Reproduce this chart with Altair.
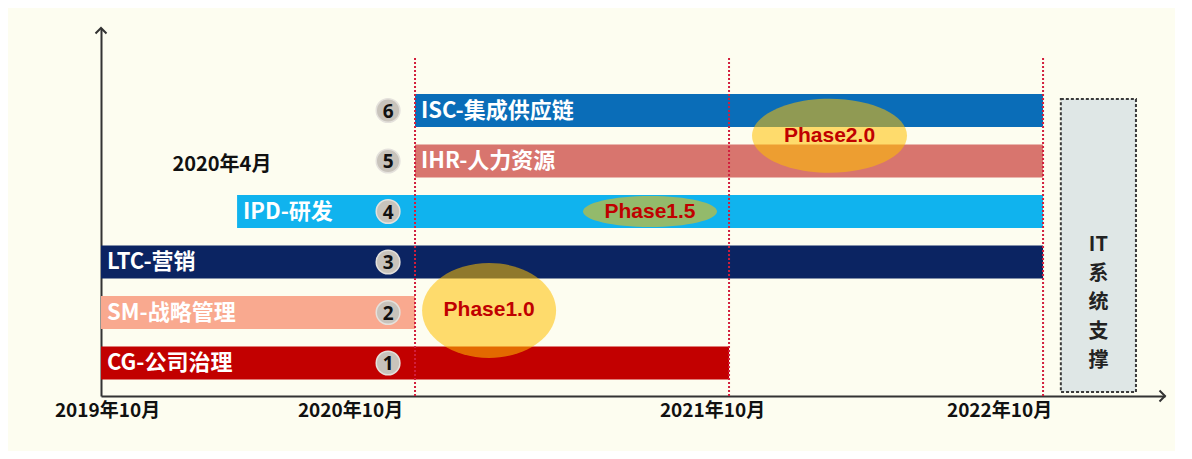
import altair as alt
import pandas as pd

# ---------------- data ----------------
tasks = ["CG-公司治理", "SM-战略管理", "LTC-营销", "IPD-研发", "IHR-人力资源", "ISC-集成供应链"]
task_rows = [1, 2, 3, 4, 5, 6]
task_start = [0, 0, 0, 5.2, 12, 12]      # months since 2019-10
task_end = [24, 12, 36, 36, 36, 36]
task_colors = ["#c20000", "#f9a98f", "#0b2462", "#10b3ee", "#d8756e", "#0a6db8"]

tick_months = [0, 12, 24, 36]
tick_labels = ["2019年10月", "2020年10月", "2021年10月", "2022年10月"]
milestone_months = [12, 24, 36]

phase_names = ["Phase1.0", "Phase1.5", "Phase2.0"]
phase_month = [14.83, 20.98, 27.84]
phase_row = [2.04, 4.0, 5.5]

badge_month = 10.97
annot_text = "2020年4月"
annot_month = 4.62
annot_row = 4.93

it_lines = ["IT", "系", "统", "支", "撑"]
it_start, it_end = 36.68, 39.55
it_bottom, it_top = 0.426, 6.228

X_MAX = 40.66
Y_MIN, Y_MAX = 0.3465, 7.634
GUIDE_TOP = 7.04

# ---------------- styles ----------------
BAR_HALF = 0.327
ELLIPSE_W = [134, 134, 155]
ELLIPSE_H = [95, 31, 74]
CJK = "Noto Sans CJK SC"

XS = alt.Scale(domain=[0, X_MAX], nice=False, zero=False)
YS = alt.Scale(domain=[Y_MIN, Y_MAX], nice=False, zero=False)

label_expr = "[" + ",".join("'%s'" % t for t in tick_labels) + "][indexof([" + \
    ",".join(str(m) for m in tick_months) + "], datum.value)]"
offsets = [6, -65, -17, -44]
XAXIS = alt.Axis(
    values=tick_months, labelExpr=label_expr, ticks=False, grid=False, title=None,
    domainColor="#333333", domainWidth=2, labelFont=CJK, labelFontSize=19,
    labelFontWeight="bold", labelColor="#111111", labelPadding=5,
    labelFlush=False, labelOverlap=False,
    labelOffset={"condition": [{"test": "datum.value == %s" % m, "value": o}
                               for m, o in zip(tick_months, offsets)], "value": 0},
)
YAXIS = alt.Axis(labels=False, ticks=False, grid=False, title=None,
                 domainColor="#333333", domainWidth=2)


def X(f):
    return alt.X(f, type="quantitative", scale=XS, axis=XAXIS)


def Y(f):
    return alt.Y(f, type="quantitative", scale=YS, axis=YAXIS)


tasks_df = pd.DataFrame({"task": tasks, "row": task_rows, "start": task_start,
                         "end": task_end, "color": task_colors})
tasks_df["lo"] = tasks_df["row"] - BAR_HALF
tasks_df["hi"] = tasks_df["row"] + BAR_HALF
tasks_df["badge"] = badge_month

bars = alt.Chart(tasks_df).mark_bar(cornerRadius=0).encode(
    x=X("start"), x2="end", y=Y("lo"), y2="hi",
    color=alt.Color("color:N", scale=None))

bar_labels = alt.Chart(tasks_df).mark_text(
    align="left", baseline="middle", dx=6, font=CJK, fontWeight="bold",
    fontSize=22, color="white").encode(x=X("start"), y=Y("row"), text="task:N")

badges = alt.Chart(tasks_df).mark_circle(
    size=560, color="#c8c3bb", opacity=1, stroke="#e4e1dc", strokeWidth=1.5).encode(
    x=X("badge"), y=Y("row"))
badge_nums = alt.Chart(tasks_df).mark_text(
    font="Noto Sans", fontWeight="bold", fontSize=19, color="#111111",
    baseline="middle", dy=1).encode(x=X("badge"), y=Y("row"), text="row:N")

guide_df = pd.DataFrame({"m": milestone_months, "y0": Y_MIN, "y1": GUIDE_TOP})
guides = alt.Chart(guide_df).mark_rule(
    color="#d21f3c", strokeDash=[2, 2], strokeWidth=2).encode(
    x=X("m"), y=Y("y0"), y2="y1")


def ellipse_path(w, h):
    r = h / w
    return "M -1 0 A 1 %.4f 0 1 1 1 0 A 1 %.4f 0 1 1 -1 0 Z" % (r, r)


phase_df = pd.DataFrame({"phase": phase_names, "m": phase_month, "row": phase_row,
                         "path": [ellipse_path(w, h) for w, h in zip(ELLIPSE_W, ELLIPSE_H)],
                         "sz": [w * w for w in ELLIPSE_W]})
ellipses = alt.Chart(phase_df).mark_point(
    filled=True, fill="#ffc000", fillOpacity=0.55, strokeWidth=0, opacity=1).encode(
    x=X("m"), y=Y("row"), shape=alt.Shape("path:N", scale=None),
    size=alt.Size("sz:Q", scale=None))
phase_text = alt.Chart(phase_df).mark_text(
    font="Liberation Sans", fontWeight="bold", fontSize=21, color="#c00000",
    baseline="middle").encode(x=X("m"), y=Y("row"), text="phase:N")

it_df = pd.DataFrame({"x0": [it_start], "x1": [it_end], "y0": [it_bottom], "y1": [it_top],
                      "xc": [(it_start + it_end) / 2], "yc": [(it_bottom + it_top) / 2],
                      "label": ["\n".join(it_lines)]})
it_box = alt.Chart(it_df).mark_rect(
    fill="#dfe7e6", stroke="#3a3a3a", strokeDash=[3, 2], strokeWidth=2).encode(
    x=X("x0"), x2="x1", y=Y("y0"), y2="y1")
it_text = alt.Chart(it_df).mark_text(
    font=CJK, fontWeight="bold", fontSize=20, color="#222222", lineBreak="\n",
    lineHeight=29, baseline="middle").encode(x=X("xc"), y=Y("yc"), text="label:N")

annot_df = pd.DataFrame({"t": [annot_text], "m": [annot_month], "row": [annot_row]})
annot = alt.Chart(annot_df).mark_text(
    font=CJK, fontWeight="bold", fontSize=20, color="#111111", baseline="middle").encode(
    x=X("m"), y=Y("row"), text="t:N")

arrow_df = pd.DataFrame({"ax": [X_MAX, 0], "ay": [Y_MIN, Y_MAX],
                         "path": ["M -1 -1 L 0 0 L -1 1", "M -1 1 L 0 0 L 1 1"]})
arrows = alt.Chart(arrow_df).mark_point(
    filled=False, stroke="#333333", strokeWidth=2, size=121, opacity=1).encode(
    x=X("ax"), y=Y("ay"), shape=alt.Shape("path:N", scale=None))

chart = alt.layer(
    bars, guides, badges, badge_nums, bar_labels, ellipses, phase_text,
    it_box, it_text, annot, arrows
).properties(
    width=1064, height=368,
    autosize=alt.AutoSizeParams(type="none"),
    padding={"left": 93, "top": 20, "right": 10, "bottom": 55},
    background="#fdfdf0",
).configure_view(stroke=None)

chart.save("out.html", embed_options={"renderer": "svg", "actions": False})
